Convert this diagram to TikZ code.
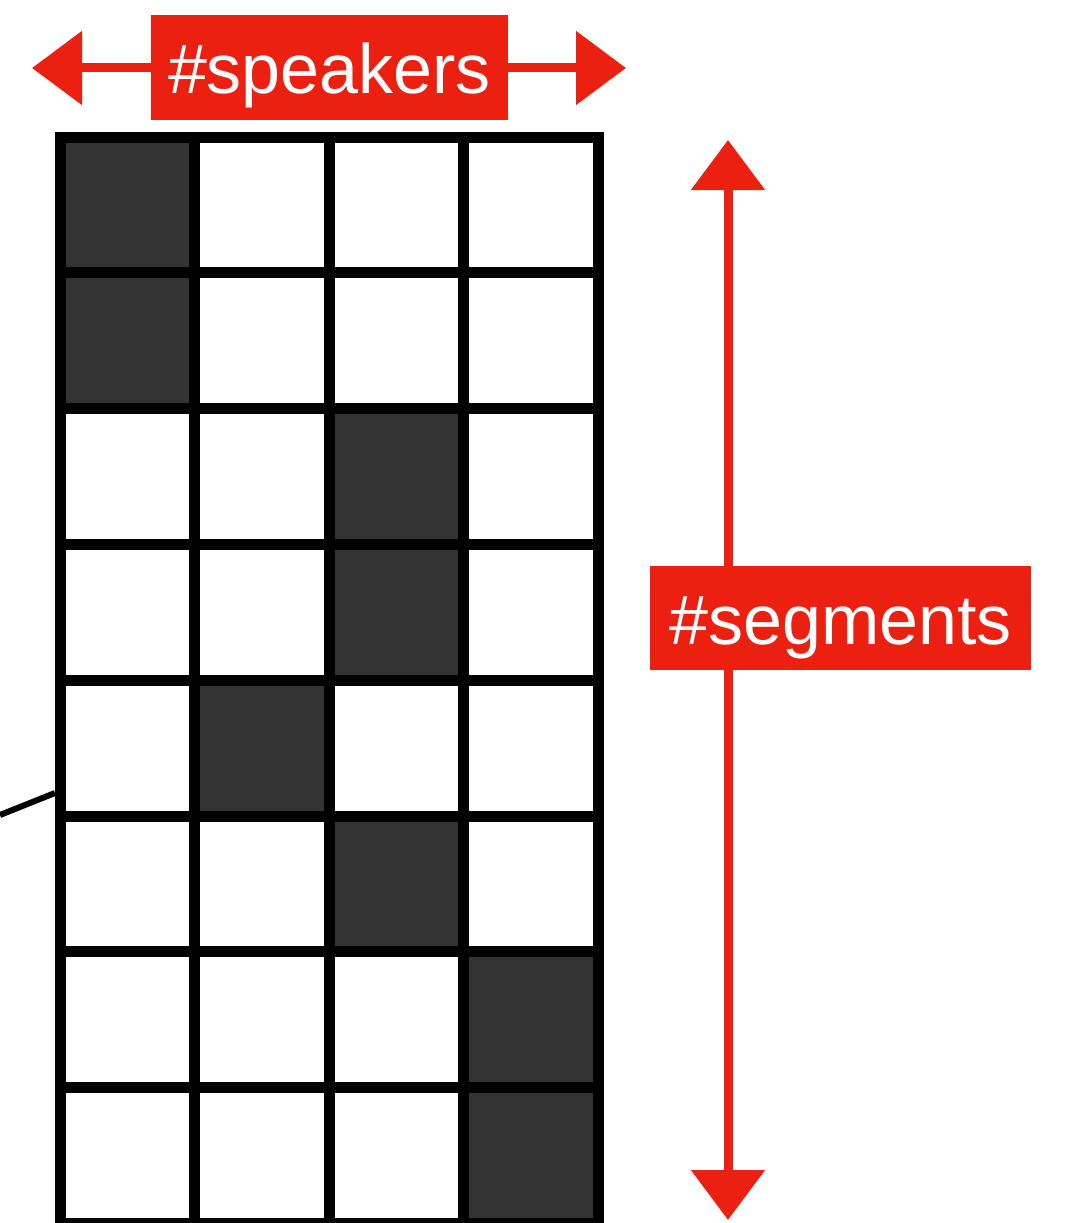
\documentclass[tikz,border=0pt]{standalone}
\usepackage{fontspec}
\setmainfont{Liberation Sans}
\usetikzlibrary{arrows.meta}
\definecolor{chalkred}{HTML}{EC2010}
\definecolor{darkcell}{HTML}{333333}
\begin{document}
\begin{tikzpicture}[x=1pt,y=-1pt,
  cell/.style={draw=black,line width=11pt,minimum width=134.5pt,minimum height=135.8pt,inner sep=0pt,outer sep=0pt,fill=white},
  dark/.style={cell,fill=darkcell},
  redlabel/.style={fill=chalkred,text=white,font=\fontsize{70}{70}\selectfont,inner sep=0pt,text height=52pt,text depth=0pt,minimum width=357pt,minimum height=105pt},
  redarrow/.style={draw=chalkred,line width=9pt,{Triangle[width=72pt,length=50pt]}-{Triangle[width=72pt,length=50pt]}}
]
\useasboundingbox (0,0) rectangle (1071,1223);
% grid
\foreach \r in {0,...,7}{
  \foreach \c in {0,...,3}{
    \node[cell] (c\r\c) at ({60+134.5*(\c+0.5)},{137+135.8*(\r+0.5)}) {};
  }
}
\node[dark] at (c00) {};
\node[dark] at (c10) {};
\node[dark] at (c22) {};
\node[dark] at (c32) {};
\node[dark] at (c41) {};
\node[dark] at (c52) {};
\node[dark] at (c63) {};
\node[dark] at (c73) {};
% redraw borders of the grid
\foreach \r in {0,...,7}{
  \foreach \c in {0,...,3}{
    \draw[line width=11pt] ({60+134.5*\c},{137+135.8*\r}) rectangle ({60+134.5*(\c+1)},{137+135.8*(\r+1)});
  }
}
% black line at left
\coordinate (lfree) at (0,815);
\coordinate (lend) at (55,793);
\draw[line width=6pt] (lfree) -- (lend);
% speakers arrow
\coordinate (spL) at (32,68);
\coordinate (spR) at (626,68);
\draw[redarrow] (spL) -- (spR);
\node[redlabel] (speakers) at (329.5,67.5) {\#speakers};
% segments arrow
\coordinate (sgT) at (728,140);
\coordinate (sgB) at (728,1220);
\draw[redarrow] (sgT) -- (sgB);
\node[redlabel,minimum width=381pt,minimum height=104pt] (segments) at (840.5,618) {\#segments};
\end{tikzpicture}
\end{document}
